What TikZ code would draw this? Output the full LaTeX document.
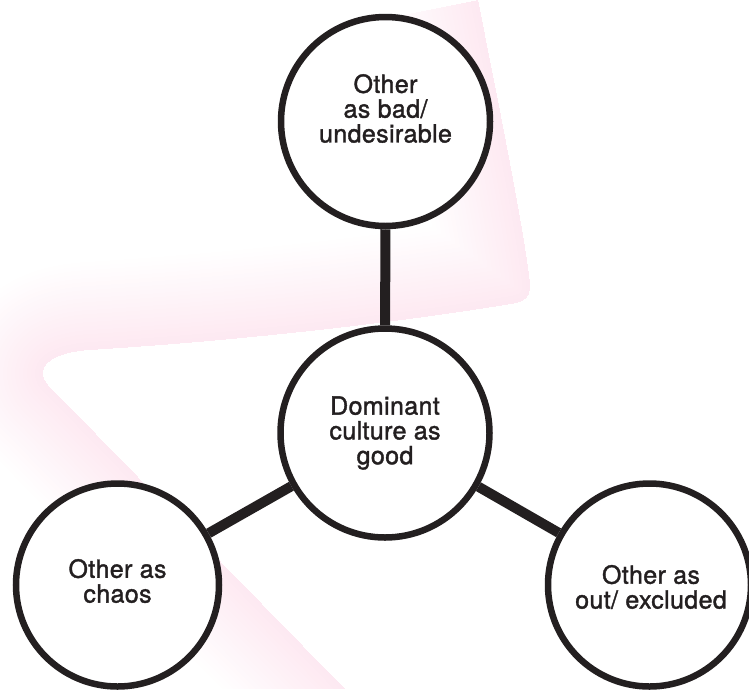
\documentclass[tikz,border=0pt]{standalone}
\usepackage{fontspec}
\setmainfont{TeX Gyre Heros}[LetterSpace=1.5, FakeBold=1.5]
\definecolor{ink}{RGB}{35,31,32}
\definecolor{blush}{RGB}{236,0,100}
\begin{document}
\begin{tikzpicture}[x=1pt,y=-1pt,
  bubble/.style={circle, draw=ink, line width=6.5pt, fill=white, inner sep=0pt},
  bigbubble/.style={bubble, minimum size=209pt},
  smallbubble/.style={bubble, minimum size=203pt},
  caption/.style={align=center, text=ink, inner sep=0pt,
                  font=\fontsize{25}{24.8}\selectfont},
  spoke/.style={draw=ink, line width=10pt},
]
\useasboundingbox (0,0) rectangle (749,689);

% soft pink ribbon behind the diagram: sharp inner edge, fading outwards
\begin{scope}
  \clip (478,0) .. controls (498,100) and (522,220) .. (529,275)
        .. controls (533,300) and (525,302) .. (505,305)
        .. controls (400,322) and (250,340) .. (90,350)
        .. controls (45,353) and (30,372) .. (55,392)
        -- (345,689) -- (0,689) -- (0,0) -- cycle;
  \foreach \i in {1,...,22} {
    \draw[blush, opacity=0.0024, line width=\i*8pt, line join=round]
      (478,0) .. controls (498,100) and (522,220) .. (529,275)
        .. controls (533,300) and (525,302) .. (505,305)
        .. controls (400,322) and (250,340) .. (90,350)
        .. controls (45,353) and (30,372) .. (55,392)
        -- (345,689);
  }
\end{scope}

% circles
\node[bigbubble]   (bad)   at (385.5,121.5) {};
\node[bigbubble]   (good)  at (385,433)     {};
\node[smallbubble] (chaos) at (117.5,585)   {};
\node[smallbubble] (out)   at (649.5,585)   {};

% connectors
\draw[spoke] (good) -- (bad);
\draw[spoke] (good) -- (chaos);
\draw[spoke] (good) -- (out);

% labels
\node[caption] (badtext)   at ([yshift=13pt]bad.center)   {Other\\as bad/\\undesirable};
\node[caption] (goodtext)  at (good.center)               {Dominant\\culture as\\good};
\node[caption] (chaostext) at ([yshift=4pt]chaos.center)  {Other as\\chaos};
\node[caption] (outtext)   at ([xshift=1.5pt,yshift=-2pt]out.center) {Other as\\out/ excluded};
\end{tikzpicture}
\end{document}
